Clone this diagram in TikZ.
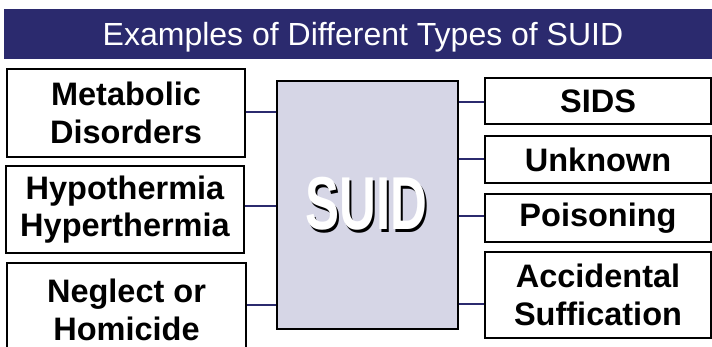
\documentclass[tikz,border=0pt]{standalone}
\usepackage{fontspec}
\setmainfont{Liberation Sans}
\definecolor{navy}{HTML}{2B2A6E}
\definecolor{lav}{HTML}{D6D6E6}
\begin{document}
\begin{tikzpicture}[x=1pt,y=-1pt,
  box/.style={draw=black, line width=2pt, fill=white, inner sep=0pt, align=center,
    font=\fontsize{32.5}{37.5}\selectfont\bfseries},
  link/.style={draw=navy, line width=2pt}]
\useasboundingbox (0,0) rectangle (712,347);
\fill[white] (0,0) rectangle (712,347);
% title
\fill[navy] (4,9) rectangle (712,59);
\node[anchor=base, text=white, inner sep=0pt, font=\fontsize{32}{32}\selectfont] (title) at (363,46) {Examples of Different Types of SUID};
% centre
\node[draw=black, line width=2pt, fill=lav, minimum width=181pt, minimum height=248pt, inner sep=0pt] (c) at (367.5,205) {};
\node[inner sep=0pt, font=\fontsize{75}{75}\selectfont\bfseries] (s) at (366.5,205)
  {\scalebox{0.68}[1]{\rlap{\hspace{2.5pt}\raisebox{-2.5pt}{\color{black}SUID}}\color{white}SUID}};
% left
\node[box, minimum width=238pt, minimum height=88pt] (l1) at (126,113) {Metabolic\\Disorders};
\node[box, minimum width=238pt, minimum height=87pt] (l2) at (125,209.5) {Hypothermia\\Hyperthermia};
\node[box, minimum width=239pt, minimum height=94pt] (l3) at (126.5,310) {Neglect or\\Homicide};
% right
\node[box, minimum width=226pt, minimum height=46pt] (r1) at (598,101) {SIDS};
\node[box, minimum width=226pt, minimum height=47pt] (r2) at (598,159.5) {Unknown};
\node[box, minimum width=226pt, minimum height=48pt] (r3) at (598,218) {Poisoning};
\node[box, minimum width=226pt, minimum height=86pt] (r4) at (598,295) {Accidental\\Suffication};
% connectors
\draw[link] ([yshift=1pt]l1.east) -- ([yshift=1pt]l1.east -| c.west);
\draw[link] ([yshift=3.5pt]l2.east) -- ([yshift=3.5pt]l2.east -| c.west);
\draw[link] ([yshift=5pt]l3.east) -- ([yshift=5pt]l3.east -| c.west);
\draw[link] ([yshift=-1pt]r1.west) -- ([yshift=-1pt]r1.west -| c.east);
\draw[link] (r2.west) -- (r2.west -| c.east);
\draw[link] ([yshift=2pt]r3.west) -- ([yshift=2pt]r3.west -| c.east);
\draw[link] ([yshift=-9pt]r4.west) -- ([yshift=-9pt]r4.west -| c.east);
\end{tikzpicture}
\end{document}
